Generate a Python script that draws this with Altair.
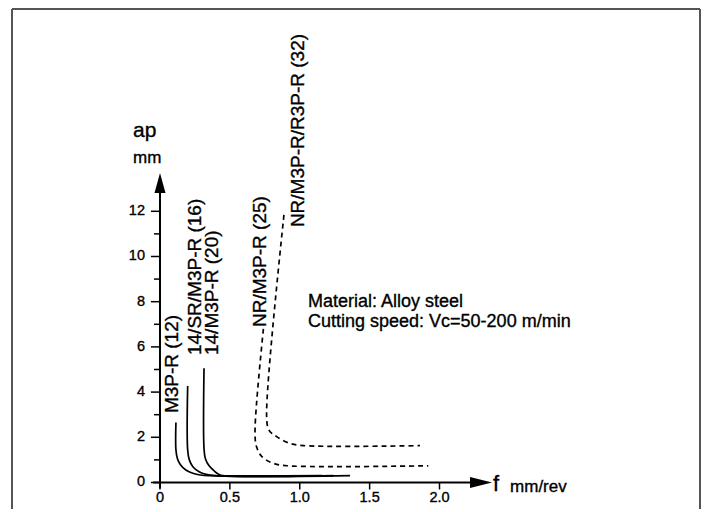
import altair as alt
import pandas as pd

# ---------------- data ----------------
# solid curves (f in mm/rev, ap in mm)
c12_f = [0.114, 0.114, 0.125, 0.145, 0.185, 0.24, 0.30, 0.36, 1.16]
c12_ap = [2.65, 1.44, 1.05, 0.80, 0.55, 0.40, 0.32, 0.30, 0.30]
c16_f = [0.198, 0.198, 0.21, 0.235, 0.28, 0.33, 0.39, 1.24]
c16_ap = [4.27, 1.44, 1.00, 0.70, 0.48, 0.36, 0.30, 0.30]
c20_f = [0.315, 0.315, 0.325, 0.35, 0.39, 0.42, 0.45, 1.36]
c20_ap = [5.05, 1.50, 1.05, 0.75, 0.50, 0.36, 0.30, 0.30]
# dashed curves
c25_f = [0.74, 0.68, 0.69, 0.73, 0.81, 0.91, 1.92]
c25_ap = [6.80, 2.30, 1.60, 1.14, 0.85, 0.74, 0.74]
c32_f = [0.887, 0.763, 0.78, 0.835, 0.93, 1.03, 1.86]
c32_ap = [11.84, 2.90, 2.32, 2.03, 1.73, 1.63, 1.63]

curve_names = ["M3P-R (12)", "14/SR/M3P-R (16)", "14/M3P-R (20)",
               "NR/M3P-R (25)", "NR/M3P-R/R3P-R (32)"]
label_f = [0.086, 0.25, 0.37, 0.716, 0.988]
label_ap = [3.07, 5.64, 5.64, 6.88, 11.3]

x_ticks = [0, 0.5, 1.0, 1.5, 2.0]
x_tick_labels = ["0", "0.5", "1.0", "1.5", "2.0"]
y_ticks = [0, 2, 4, 6, 8, 10, 12]
y_minor = [1, 3, 5, 7, 9, 11]

note_lines = ["Material: Alloy steel", "Cutting speed: Vc=50-200 m/min"]
note_f = [1.059, 1.059]
note_ap = [7.78, 6.88]

# ---------------- layout constants ----------------
W, H = 688, 500
FONT = "Liberation Sans"
TXT = dict(font=FONT, color="black", stroke="black", strokeWidth=0.35)
xs = alt.Scale(domain=[-1.059, 3.864], nice=False, zero=False)
ys = alt.Scale(domain=[-1.173, 20.951], nice=False, zero=False)


def X(field="f"):
    return alt.X(f"{field}:Q", scale=xs, axis=None)


def Y(field="ap"):
    return alt.Y(f"{field}:Q", scale=ys, axis=None)


def curve_df(names, fs, aps):
    rows = []
    for n, fl, al in zip(names, fs, aps):
        for i, (a, b) in enumerate(zip(fl, al)):
            rows.append({"curve": n, "i": i, "f": a, "ap": b})
    return pd.DataFrame(rows)


solid = curve_df(curve_names[:3], [c12_f, c16_f, c20_f], [c12_ap, c16_ap, c20_ap])
dashed = curve_df(curve_names[3:], [c25_f, c32_f], [c25_ap, c32_ap])

solid_layer = alt.Chart(solid).mark_line(
    interpolate="catmull-rom", color="black", strokeWidth=1.7
).encode(x=X(), y=Y(), detail="curve:N", order="i:Q")

dashed_layer = alt.Chart(dashed).mark_line(
    interpolate="catmull-rom", color="black", strokeWidth=1.7, strokeDash=[5, 4]
).encode(x=X(), y=Y(), detail="curve:N", order="i:Q")

# axes lines
yaxis = alt.Chart(pd.DataFrame({"f": [0], "ap": [-0.25], "ap2": [12.9]})).mark_rule(
    color="black", strokeWidth=2
).encode(x=X(), y=Y(), y2="ap2:Q")
xaxis = alt.Chart(pd.DataFrame({"f": [-0.05], "f2": [2.25], "ap": [0]})).mark_rule(
    color="black", strokeWidth=2
).encode(x=X(), x2="f2:Q", y=Y())

# arrow heads
yarrow = alt.Chart(pd.DataFrame({"f": [0], "ap": [13.25]})).mark_point(
    shape="M0,-1L0.55,1L-0.55,1Z", filled=True, size=400, color="black", opacity=1
).encode(x=X(), y=Y())
xarrow = alt.Chart(pd.DataFrame({"f": [2.297], "ap": [0]})).mark_point(
    shape="M1,0L-1,-0.5L-1,0.5Z", filled=True, size=484, color="black", opacity=1
).encode(x=X(), y=Y())

# ticks
ymaj = alt.Chart(pd.DataFrame({"ap": y_ticks, "f": [-0.065] * len(y_ticks), "f2": [0] * len(y_ticks)})).mark_rule(
    color="black", strokeWidth=1.5
).encode(x=X(), x2="f2:Q", y=Y())
ymin = alt.Chart(pd.DataFrame({"ap": y_minor, "f": [-0.043] * len(y_minor), "f2": [0] * len(y_minor)})).mark_rule(
    color="black", strokeWidth=1.5
).encode(x=X(), x2="f2:Q", y=Y())
xtk = alt.Chart(pd.DataFrame({"f": x_ticks, "ap": [0] * len(x_ticks), "ap2": [-0.31] * len(x_ticks)})).mark_rule(
    color="black", strokeWidth=1.5
).encode(x=X(), y=Y(), y2="ap2:Q")

# tick labels
ylab = alt.Chart(pd.DataFrame({"ap": y_ticks, "f": [0] * len(y_ticks), "t": [str(v) for v in y_ticks]})).mark_text(
    align="right", baseline="middle", dx=-15, fontSize=14.5, **TXT
).encode(x=X(), y=Y(), text="t:N")
xlab = alt.Chart(pd.DataFrame({"f": x_ticks, "ap": [0] * len(x_ticks), "t": x_tick_labels})).mark_text(
    align="center", baseline="alphabetic", dy=20, fontSize=14.5, **TXT
).encode(x=X(), y=Y(), text="t:N")

# axis titles
ap_title = alt.Chart(pd.DataFrame({"f": [0], "ap": [15.3], "t": ["ap"]})).mark_text(
    align="left", baseline="alphabetic", dx=-27, fontSize=21, **TXT
).encode(x=X(), y=Y(), text="t:N")
mm_title = alt.Chart(pd.DataFrame({"f": [0], "ap": [14.14], "t": ["mm"]})).mark_text(
    align="left", baseline="alphabetic", dx=-27, fontSize=17, **TXT
).encode(x=X(), y=Y(), text="t:N")
f_title = alt.Chart(pd.DataFrame({"f": [2.383], "ap": [-0.38], "t": ["f"]})).mark_text(
    align="left", baseline="alphabetic", fontSize=22, **TXT
).encode(x=X(), y=Y(), text="t:N")
fu_title = alt.Chart(pd.DataFrame({"f": [2.505], "ap": [-0.42], "t": ["mm/rev"]})).mark_text(
    align="left", baseline="alphabetic", fontSize=17, **TXT
).encode(x=X(), y=Y(), text="t:N")

# rotated curve labels
labels = alt.Chart(pd.DataFrame({"f": label_f, "ap": label_ap, "t": curve_names})).mark_text(
    angle=270, align="left", baseline="middle", fontSize=19, **TXT
).encode(x=X(), y=Y(), text="t:N")

# note
note = alt.Chart(pd.DataFrame({"f": note_f, "ap": note_ap, "t": note_lines})).mark_text(
    align="left", baseline="alphabetic", fontSize=18, **TXT
).encode(x=X(), y=Y(), text="t:N")

# frame (top, left, right edges; bottom runs off the picture)
frame_top = alt.Chart(pd.DataFrame({"k": [0]})).mark_rule(color="#555", strokeWidth=2).encode(
    x=alt.value(0), x2=alt.value(W), y=alt.value(0))
frame_left = alt.Chart(pd.DataFrame({"k": [0]})).mark_rule(color="#555", strokeWidth=2).encode(
    x=alt.value(0), y=alt.value(0), y2=alt.value(H))
frame_right = alt.Chart(pd.DataFrame({"k": [0]})).mark_rule(color="#555", strokeWidth=2).encode(
    x=alt.value(W), y=alt.value(0), y2=alt.value(H))

chart = alt.layer(
    frame_top, frame_left, frame_right,
    solid_layer, dashed_layer, yaxis, xaxis, yarrow, xarrow,
    ymaj, ymin, xtk, ylab, xlab, ap_title, mm_title, f_title, fu_title, labels, note
).properties(
    width=W, height=H,
    padding={"left": 4, "top": 1, "right": 2, "bottom": 0},
    autosize=alt.AutoSizeParams(type="none"),
    background="white",
).configure_view(stroke=None)

chart.save("out.html", embed_options={"renderer": "svg", "actions": False})
